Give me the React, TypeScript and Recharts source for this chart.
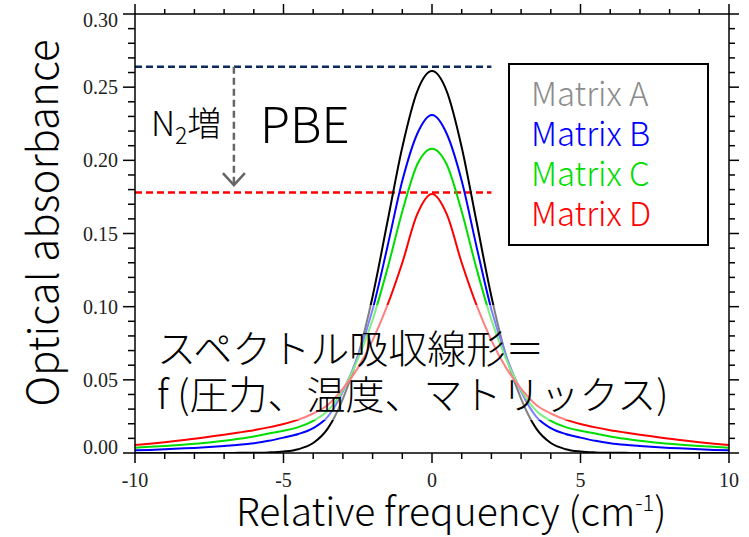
import React from "react"
import {
  LineChart,
  Line,
  XAxis,
  YAxis,
  ReferenceLine,
  ReferenceDot,
  Label,
} from "recharts"

// relative frequency (cm-1)
const freq = [
  -10, -9.5, -9, -8.5, -8, -7.5, -7, -6.5, -6, -5.5, -5, -4.5, -4, -3.5, -3, -2.5, -2, -1.5, -1, -0.5,
  0, 0.5, 1, 1.5, 2, 2.5, 3, 3.5, 4, 4.5, 5, 5.5, 6, 6.5, 7, 7.5, 8, 8.5, 9, 9.5, 10,
]

const matrixA = [
  0, 0, 0, 0, 0, 0, 0, 0.0001, 0.0002, 0.0004, 0.001, 0.0026, 0.0068, 0.017, 0.037, 0.066, 0.107, 0.158, 0.209, 0.247,
  0.261, 0.247, 0.209, 0.158, 0.107, 0.066, 0.037, 0.017, 0.0068, 0.0026, 0.001, 0.0004, 0.0002, 0.0001, 0, 0, 0, 0, 0, 0, 0,
]
const matrixB = [
  0.0018, 0.0021, 0.0025, 0.003, 0.0035, 0.0041, 0.0048, 0.0056, 0.0067, 0.0083, 0.0105, 0.013, 0.017, 0.025, 0.042, 0.066, 0.098, 0.141, 0.186, 0.218,
  0.231, 0.218, 0.186, 0.141, 0.098, 0.066, 0.042, 0.025, 0.017, 0.013, 0.0105, 0.0083, 0.0067, 0.0056, 0.0048, 0.0041, 0.0035, 0.003, 0.0025, 0.0021, 0.0018,
]
const matrixC = [
  0.0036, 0.0042, 0.0048, 0.0055, 0.0063, 0.0072, 0.0083, 0.0097, 0.0113, 0.0133, 0.0152, 0.0177, 0.022, 0.029, 0.043, 0.064, 0.091, 0.126, 0.165, 0.197,
  0.208, 0.197, 0.165, 0.126, 0.091, 0.064, 0.043, 0.029, 0.022, 0.0177, 0.0152, 0.0133, 0.0113, 0.0097, 0.0083, 0.0072, 0.0063, 0.0055, 0.0048, 0.0042, 0.0036,
]
const matrixD = [
  0.0055, 0.0064, 0.0074, 0.0085, 0.0097, 0.0111, 0.0125, 0.014, 0.0156, 0.0175, 0.0198, 0.0228, 0.027, 0.033, 0.044, 0.058, 0.077, 0.101, 0.13, 0.163,
  0.177, 0.163, 0.13, 0.101, 0.077, 0.058, 0.044, 0.033, 0.027, 0.0228, 0.0198, 0.0175, 0.0156, 0.014, 0.0125, 0.0111, 0.0097, 0.0085, 0.0074, 0.0064, 0.0055,
]

const xTicks = [-10, -9, -8, -7, -6, -5, -4, -3, -2, -1, 0, 1, 2, 3, 4, 5, 6, 7, 8, 9, 10]
const yTicks = [
  0, 0.01, 0.02, 0.03, 0.04, 0.05, 0.06, 0.07, 0.08, 0.09, 0.1, 0.11, 0.12, 0.13, 0.14, 0.15,
  0.16, 0.17, 0.18, 0.19, 0.2, 0.21, 0.22, 0.23, 0.24, 0.25, 0.26, 0.27, 0.28, 0.29, 0.3,
]

const beforeN2 = 0.264 // PBE level, low N2
const afterN2 = 0.178 // PBE level, high N2
const arrowX = -6.67
const dashEnd = 2

const legend = [
  { name: "Matrix A", color: "#8c8c8c" },
  { name: "Matrix B", color: "#0000ff" },
  { name: "Matrix C", color: "#00dd00" },
  { name: "Matrix D", color: "#ff0000" },
]

const data = freq.map((f, i) => ({
  f,
  a: matrixA[i],
  b: matrixB[i],
  c: matrixC[i],
  d: matrixD[i],
}))

const serif = "'Liberation Serif', 'DejaVu Serif', serif"
const sans = "'Noto Sans CJK JP', 'Noto Sans', sans-serif"

const isMajorX = (v: number) => Math.round(v) % 5 === 0
const isMajorY = (v: number) => Math.round(v * 100) % 5 === 0

function BottomTick({ x, y, payload }: any) {
  const major = isMajorX(payload.value)
  return (
    <g>
      <line x1={x} y1={y} x2={x} y2={y + (major ? 10 : 6)} stroke="#000" strokeWidth={1.5} />
      {major && (
        <text x={x} y={y + 34} textAnchor="middle" fontFamily={serif} fontSize={20} fill="#222">
          {payload.value}
        </text>
      )}
    </g>
  )
}

function TopTick({ x, y, payload }: any) {
  const major = isMajorX(payload.value)
  return <line x1={x} y1={y} x2={x} y2={y - (major ? 10 : 5)} stroke="#000" strokeWidth={1.5} />
}

function LeftTick({ x, y, payload }: any) {
  const v = payload.value
  const major = isMajorY(v)
  let dy = 7
  if (v >= 0.299) dy = 13
  if (v <= 0.001) dy = 1
  return (
    <g>
      <line x1={x} y1={y} x2={x - (major ? 12 : 7)} y2={y} stroke="#000" strokeWidth={1.5} />
      {major && (
        <text x={x - 17} y={y + dy} textAnchor="end" fontFamily={serif} fontSize={20} fill="#222">
          {v.toFixed(2)}
        </text>
      )}
    </g>
  )
}

function RightTick({ x, y, payload }: any) {
  const major = isMajorY(payload.value)
  return <line x1={x} y1={y} x2={x + (major ? 10 : 6)} y2={y} stroke="#000" strokeWidth={1.5} />
}

function ArrowHead({ cx, cy }: any) {
  return (
    <path
      d={`M ${cx - 11} ${cy - 12} L ${cx} ${cy} L ${cx + 11} ${cy - 12}`}
      fill="none"
      stroke="#666"
      strokeWidth={2.5}
    />
  )
}

export default function App() {
  return (
    <div style={{ position: "absolute", left: 0, top: 0, width: 749, height: 537, background: "#fff" }}>
      <LineChart width={749} height={537} data={data} margin={{ top: 0, right: 0, bottom: 0, left: 0 }}>
        <XAxis
          dataKey="f"
          type="number"
          domain={[-10, 10]}
          ticks={xTicks}
          interval={0}
          allowDataOverflow
          height={84}
          tickSize={0}
          tickMargin={0}
          tick={<BottomTick />}
          axisLine={{ stroke: "#000", strokeWidth: 1.5 }}
        >
          <Label
            content={() => (
              <text x={236} y={526} fontFamily={sans} fontWeight={300} fontSize={39} fill="#000">
                Relative frequency (cm
                <tspan dy={-15} fontSize={22}>-1</tspan>
                <tspan dy={15}>)</tspan>
              </text>
            )}
          />
        </XAxis>
        <XAxis
          xAxisId="top"
          orientation="top"
          dataKey="f"
          type="number"
          domain={[-10, 10]}
          ticks={xTicks}
          interval={0}
          allowDataOverflow
          height={14}
          tickSize={0}
          tickMargin={0}
          tick={<TopTick />}
          axisLine={{ stroke: "#000", strokeWidth: 1.5 }}
        />
        <YAxis
          type="number"
          domain={[0, 0.3]}
          ticks={yTicks}
          interval={0}
          allowDataOverflow
          width={135}
          tickSize={0}
          tickMargin={0}
          tick={<LeftTick />}
          axisLine={{ stroke: "#000", strokeWidth: 1.5 }}
        >
          <Label
            content={() => (
              <text
                x={0}
                y={0}
                transform="translate(58 223) rotate(-90)"
                textAnchor="middle"
                fontFamily={sans}
                fontWeight={300}
                fontSize={42}
                fill="#000"
              >
                Optical absorbance
              </text>
            )}
          />
        </YAxis>
        <YAxis
          yAxisId="right"
          orientation="right"
          type="number"
          domain={[0, 0.3]}
          ticks={yTicks}
          interval={0}
          allowDataOverflow
          width={20}
          tickSize={0}
          tickMargin={0}
          tick={<RightTick />}
          axisLine={{ stroke: "#000", strokeWidth: 1.5 }}
        />

        <ReferenceLine
          segment={[{ x: -10, y: beforeN2 }, { x: dashEnd, y: beforeN2 }]}
          stroke="#0d2a5c"
          strokeWidth={2.5}
          strokeDasharray="7 4"
        />
        <ReferenceLine
          segment={[{ x: -10, y: afterN2 }, { x: dashEnd, y: afterN2 }]}
          stroke="#ff0000"
          strokeWidth={2.5}
          strokeDasharray="7 4"
        />
        <ReferenceLine
          segment={[{ x: arrowX, y: beforeN2 }, { x: arrowX, y: 0.184 }]}
          stroke="#666"
          strokeWidth={2.5}
          strokeDasharray="7 4"
        />
        <ReferenceDot x={arrowX} y={0.183} r={1} shape={<ArrowHead />} />

        <Line type="monotone" dataKey="a" stroke="#000" strokeWidth={2} dot={false} isAnimationActive={false} />
        <Line type="monotone" dataKey="b" stroke="#0000ff" strokeWidth={2} dot={false} isAnimationActive={false} />
        <Line type="monotone" dataKey="c" stroke="#00dd00" strokeWidth={2} dot={false} isAnimationActive={false} />
        <Line type="monotone" dataKey="d" stroke="#ff0000" strokeWidth={2} dot={false} isAnimationActive={false} />
      </LineChart>

      {/* annotations */}
      <div style={{ position: "absolute", left: 151, top: 100, fontFamily: sans, fontWeight: 300, fontSize: 34, lineHeight: "44px", whiteSpace: "nowrap" }}>
        N<sub style={{ fontSize: 23, verticalAlign: -8 }}>2</sub>増
      </div>
      <div style={{ position: "absolute", left: 260, top: 89, fontFamily: sans, fontWeight: 300, fontSize: 49, lineHeight: "66px" }}>
        PBE
      </div>

      <div
        style={{
          position: "absolute",
          left: 150,
          top: 305,
          width: 540,
          height: 115,
          background: "rgba(255,255,255,0.5)",
        }}
      />
      <div
        style={{
          position: "absolute",
          left: 157,
          top: 323,
          fontFamily: sans,
          fontWeight: 300,
          fontSize: 39,
          lineHeight: "46px",
          whiteSpace: "nowrap",
        }}
      >
        <div>スペクトル吸収線形＝</div>
        <div>f (圧力、温度、マトリックス)</div>
      </div>

      <div
        style={{
          position: "absolute",
          left: 508,
          top: 63,
          width: 197,
          height: 179,
          border: "2px solid #000",
          background: "#fff",
        }}
      >
        <div style={{ position: "absolute", left: 21, top: 7, fontFamily: sans, fontWeight: 300, fontSize: 33, lineHeight: "40px", whiteSpace: "nowrap" }}>
          {legend.map((l) => (
            <div key={l.name} style={{ color: l.color }}>
              {l.name}
            </div>
          ))}
        </div>
      </div>
    </div>
  )
}
